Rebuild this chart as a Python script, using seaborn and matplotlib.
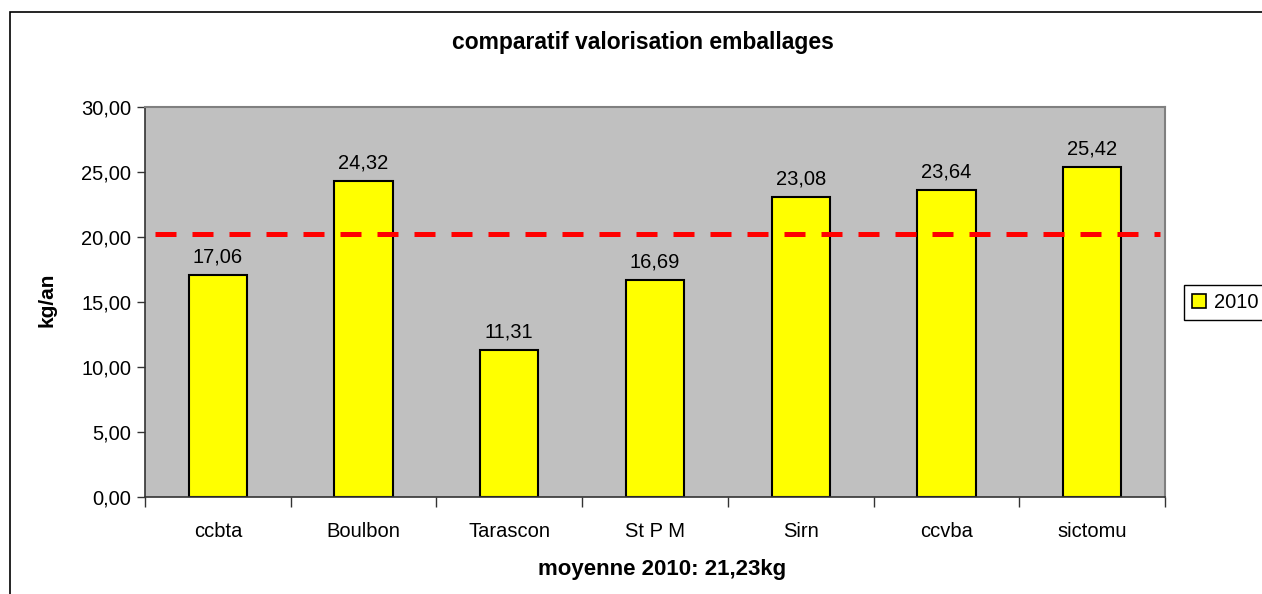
import numpy as np
import pandas as pd
import matplotlib
matplotlib.use("Agg")
import matplotlib.pyplot as plt
import seaborn as sns
from matplotlib.patches import Rectangle, Patch
from matplotlib.ticker import FuncFormatter

communes = ["ccbta", "Boulbon", "Tarascon", "St P M", "Sirn", "ccvba", "sictomu"]
valeurs = [17.06, 24.32, 11.31, 16.69, 23.08, 23.64, 25.42]
annee = "2010"
titre = "comparatif valorisation emballages"
xlabel = "moyenne 2010: 21,23kg"
ylabel = "kg/an"
yticks = [0, 5, 10, 15, 20, 25, 30]

sns.set_theme(style="white")
plt.rcParams["font.family"] = ["Liberation Sans", "DejaVu Sans"]
plt.rcParams["text.color"] = "black"

df = pd.DataFrame({"commune": communes, "valeur": valeurs, "annee": [annee] * len(communes)})

W, H = 1262, 594
fig = plt.figure(figsize=(W / 100, H / 100), dpi=100)
ax = fig.add_axes([145 / W, 1 - 497 / H, (1165 - 145) / W, (497 - 107) / H])
ax.set_facecolor("#C0C0C0")

sns.barplot(data=df, x="commune", y="valeur", hue="annee", palette=["#FFFF00"],
            width=0.4, saturation=1, edgecolor="black", linewidth=1.5, ax=ax,
            legend=False)

ax.set_xlim(-0.5, len(communes) - 0.5)
ax.set_ylim(0, 30)
ax.set_yticks(yticks)
ax.yaxis.set_major_formatter(FuncFormatter(lambda v, p: f"{v:.2f}".replace(".", ",")))
ax.tick_params(axis="y", which="major", length=6, width=1, color="#333333",
               labelsize=14.5, labelcolor="black", pad=4, left=True)
ax.set_xticks(range(len(communes)))
ax.set_xticklabels(communes)
ax.set_xticks(np.arange(-0.5, len(communes)), minor=True)
ax.tick_params(axis="x", which="major", length=0, labelsize=14.5, labelcolor="black", pad=18)
ax.tick_params(axis="x", which="minor", length=7, width=1, color="#333333", bottom=True)
ax.set_xlabel("")
ax.set_ylabel("")

for side in ["top", "right"]:
    ax.spines[side].set_visible(True)
    ax.spines[side].set_color("#808080")
    ax.spines[side].set_linewidth(1.5)
for side in ["left", "bottom"]:
    ax.spines[side].set_color("#333333")
    ax.spines[side].set_linewidth(1.2)

moyenne = float(np.mean(valeurs))
ax.axhline(moyenne, xmin=0.01, xmax=0.995, color="#FF0000", linewidth=3.6,
           linestyle=(0, (4.2, 3.2)), zorder=5)

for c in ax.containers:
    ax.bar_label(c, labels=[f"{v:.2f}".replace(".", ",") for v in c.datavalues],
                 padding=6, fontsize=14.5, color="black")

fig.text(643 / W, 1 - 43 / H, titre, ha="center", va="center", fontsize=16.5,
         fontweight="bold", color="black")
fig.text(662 / W, 1 - 570 / H, xlabel, ha="center", va="center", fontsize=16,
         fontweight="bold", color="black")
fig.text(47 / W, 1 - 300 / H, ylabel, ha="center", va="center", fontsize=15,
         fontweight="bold", rotation=90, color="black")

fig.patches.append(Rectangle((10 / W, -0.1), 1.2, 1 - 12 / H + 0.1,
                             transform=fig.transFigure, fill=False,
                             edgecolor="black", linewidth=1.2))

leg = fig.legend(handles=[Patch(facecolor="#FFFF00", edgecolor="black", linewidth=1.2, label=annee)],
                 loc="upper left", bbox_to_anchor=(1184 / W, 1 - 285 / H),
                 bbox_transform=fig.transFigure, borderaxespad=0,
                 fontsize=14.5, handlelength=0.7, handleheight=0.7, handletextpad=0.4,
                 fancybox=False, framealpha=1, borderpad=0.4)
leg.get_frame().set_edgecolor("black")
leg.get_frame().set_linewidth(1.0)
for t in leg.get_texts():
    t.set_color("black")

fig.savefig("out.png", dpi=100)
